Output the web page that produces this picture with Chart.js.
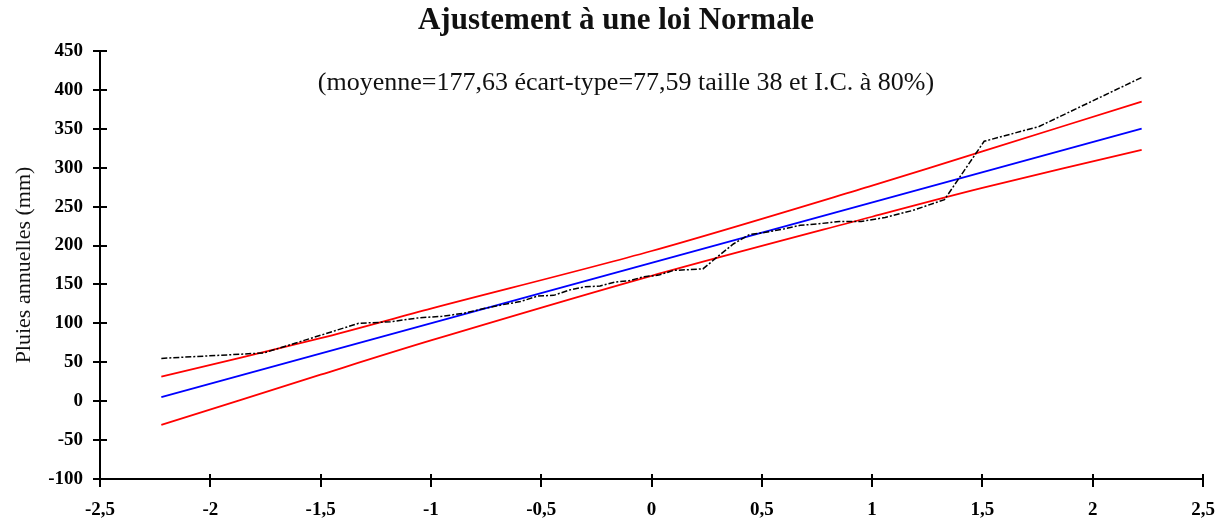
<!DOCTYPE html>
<html lang="fr">
<head>
  <meta charset="UTF-8" />
  <title>Ajustement à une loi Normale</title>
  <script src="https://cdn.jsdelivr.net/npm/chart.js"></script>
  <style>
    html, body { margin: 0; padding: 0; background: #fff; }
    #cadre { width: 1227px; height: 529px; }
  </style>
</head>
<body>
  <div id="cadre"><canvas id="graphe"></canvas></div>

  <script>
    // quantiles de la loi normale (positions de Hazen, n = 38)
    const quantiles = [-2.222, -1.757, -1.508, -1.328, -1.183, -1.059, -0.950, -0.851, -0.760, -0.674,
                       -0.594, -0.517, -0.443, -0.371, -0.301, -0.233, -0.166, -0.099, -0.033, 0.033,
                       0.099, 0.166, 0.233, 0.301, 0.371, 0.443, 0.517, 0.594, 0.674, 0.760,
                       0.851, 0.950, 1.059, 1.183, 1.328, 1.508, 1.757, 2.222];
    // pluies annuelles classées (mm)
    const pluies = [55, 62, 84, 100, 102, 107, 109, 113, 119, 124,
                    128, 135, 136, 143, 147, 148, 153, 155, 160, 162,
                    168, 169, 170, 186, 202, 214, 217, 221, 226, 228,
                    231, 231, 236, 245, 259, 334, 353, 416];

    // droite théorique
    const droiteX = [-2.222, 2.222];
    const droiteY = [5.2, 350.1];

    // intervalle de confiance à 80 %
    const icX = [-2.222, -1.5, -1, 0, 1, 1.5, 2.222];
    const icSup = [31.5, 81, 119, 193, 277, 321, 385];
    const icInf = [-30.5, 34, 78, 161, 237, 274, 323];

    const ticksX = [-2.5, -2, -1.5, -1, -0.5, 0, 0.5, 1, 1.5, 2, 2.5];
    const ticksY = [-100, -50, 0, 50, 100, 150, 200, 250, 300, 350, 400, 450];

    const titre = "Ajustement à une loi Normale";
    const sousTitre = "(moyenne=177,63 écart-type=77,59 taille 38 et I.C. à 80%)";
    const titreY = "Pluies annuelles (mm)";

    const serif = "'Liberation Serif', 'Times New Roman', serif";
    const points = (xs, ys) => xs.map((x, i) => ({ x, y: ys[i] }));

    // titres, petits traits qui traversent les axes
    const decor = {
      id: "decor",
      afterDraw(chart) {
        const ctx = chart.ctx;
        const area = chart.chartArea;
        const sx = chart.scales.x, sy = chart.scales.y;
        ctx.save();
        ctx.strokeStyle = "#000";
        ctx.lineWidth = 2;
        ctx.beginPath();
        ticksY.forEach(v => {
          const py = Math.round(sy.getPixelForValue(v));
          ctx.moveTo(area.left - 7, py);
          ctx.lineTo(area.left + 7, py);
        });
        ticksX.forEach(v => {
          const px = Math.round(sx.getPixelForValue(v));
          ctx.moveTo(px, area.bottom - 5);
          ctx.lineTo(px, area.bottom + 8);
        });
        ctx.stroke();

        ctx.fillStyle = "#111";
        ctx.textAlign = "center";
        ctx.textBaseline = "middle";
        ctx.font = "bold 31px " + serif;
        ctx.fillText(titre, 616, 21);
        ctx.font = "26px " + serif;
        ctx.fillText(sousTitre, 626, area.top + 32);
        ctx.restore();
      }
    };

    const virgule = v => String(v).replace(".", ",");

    new Chart(document.getElementById("graphe"), {
      type: "scatter",
      data: {
        datasets: [
          {
            data: points(quantiles, pluies),
            showLine: true,
            borderColor: "#000",
            borderWidth: 1.5,
            borderDash: [6, 2, 2, 2],
            pointRadius: 0
          },
          {
            data: points(droiteX, droiteY),
            showLine: true,
            borderColor: "#0000ff",
            borderWidth: 1.8,
            pointRadius: 0
          },
          {
            data: points(icX, icSup),
            showLine: true,
            borderColor: "#ff0000",
            borderWidth: 1.8,
            tension: 0.3,
            pointRadius: 0
          },
          {
            data: points(icX, icInf),
            showLine: true,
            borderColor: "#ff0000",
            borderWidth: 1.8,
            tension: 0.3,
            pointRadius: 0
          }
        ]
      },
      options: {
        responsive: true,
        maintainAspectRatio: false,
        animation: false,
        layout: { padding: { top: 51, right: 24, bottom: 0, left: 0 } },
        plugins: {
          legend: { display: false },
          tooltip: { enabled: false },
          title: { display: false }
        },
        scales: {
          x: {
            type: "linear",
            min: -2.5,
            max: 2.5,
            afterFit: s => { s.height = 50; },
            afterBuildTicks: s => { s.ticks = ticksX.map(v => ({ value: v })); },
            grid: { display: true, drawOnChartArea: false, color: "rgba(0,0,0,0)", drawTicks: true, tickLength: 20 },
            border: { color: "#000", width: 2 },
            ticks: {
              padding: 0,
              color: "#000",
              font: { family: serif, size: 19, weight: "bold" },
              callback: v => virgule(v)
            }
          },
          y: {
            min: -100,
            max: 450,
            afterFit: s => { s.width = 100; },
            afterBuildTicks: s => { s.ticks = ticksY.map(v => ({ value: v })); },
            grid: { display: false, drawTicks: false },
            border: { color: "#000", width: 2 },
            title: {
              display: true,
              text: titreY,
              color: "#111",
              font: { family: serif, size: 22 },
              padding: { top: 11, bottom: 0 }
            },
            ticks: {
              padding: 17,
              color: "#000",
              font: { family: serif, size: 19, weight: "bold" }
            }
          }
        }
      },
      plugins: [decor]
    });
  </script>
</body>
</html>
